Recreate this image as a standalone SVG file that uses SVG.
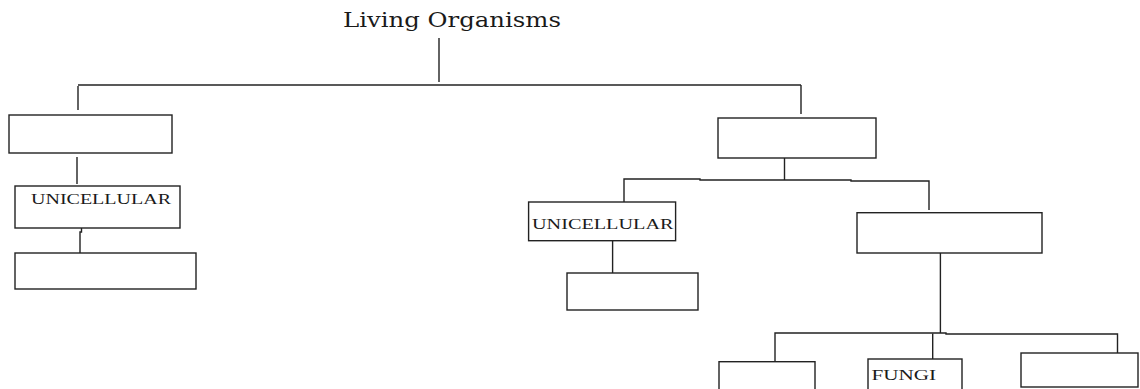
<svg xmlns="http://www.w3.org/2000/svg" width="1140" height="389" viewBox="0 0 1140 389">
<style>
.box{fill:#fff;stroke:#222;stroke-width:1.4}
.ln{fill:none;stroke:#222;stroke-width:1.4}
.lbl{font-family:"Liberation Serif","DejaVu Serif",serif;font-size:14px;fill:#1a1a1a}
.title{font-family:"DejaVu Serif","Liberation Serif",serif;font-size:20px;fill:#1a1a1a}
</style>
<rect width="1140" height="389" fill="#fff"/>
<g id="connectors">
<path class="ln" d="M439 38V82"/>
<path class="ln" d="M78 85H801"/>
<path class="ln" d="M78 86V110"/>
<path class="ln" d="M801 85V114"/>
<path class="ln" d="M77 157V184"/>
<path class="ln" d="M81.5 228V232H80V253"/>
<path class="ln" d="M784.5 158V180"/>
<path class="ln" d="M624 202V179H700V180H851V181H929V210"/>
<path class="ln" d="M612.6 241V275"/>
<path class="ln" d="M940.4 253V333"/>
<path class="ln" d="M775 361V333H946V334H1117.5V353"/>
<path class="ln" d="M932.7 333.5V359"/>
</g>
<g id="title"><text class="title" x="343" y="27" textLength="218" lengthAdjust="spacingAndGlyphs">Living Organisms</text></g>
<g id="n-left1"><rect class="box" x="9" y="115" width="163" height="38"/></g>
<g id="n-left-unicellular"><rect class="box" x="15" y="186" width="165" height="42"/><text class="lbl" x="31" y="204" textLength="140" lengthAdjust="spacingAndGlyphs">UNICELLULAR</text></g>
<g id="n-left3"><rect class="box" x="15" y="253" width="181" height="36"/></g>
<g id="n-right1"><rect class="box" x="718" y="118" width="158" height="40"/></g>
<g id="n-right-unicellular"><rect class="box" x="528.6" y="202" width="147" height="38.7"/><text class="lbl" x="532" y="229" textLength="141.5" lengthAdjust="spacingAndGlyphs">UNICELLULAR</text></g>
<g id="n-right3"><rect class="box" x="567" y="273" width="131" height="37"/></g>
<g id="n-right4"><rect class="box" x="857" y="212.7" width="185" height="40.3"/></g>
<g id="n-bottom1"><rect class="box" x="719" y="361.7" width="96" height="40"/></g>
<g id="n-fungi"><rect class="box" x="868" y="359" width="94" height="40"/><text class="lbl" x="871.4" y="380" textLength="64.6" lengthAdjust="spacingAndGlyphs">FUNGI</text></g>
<g id="n-bottom3"><rect class="box" x="1021" y="353" width="117" height="34"/></g>
</svg>
